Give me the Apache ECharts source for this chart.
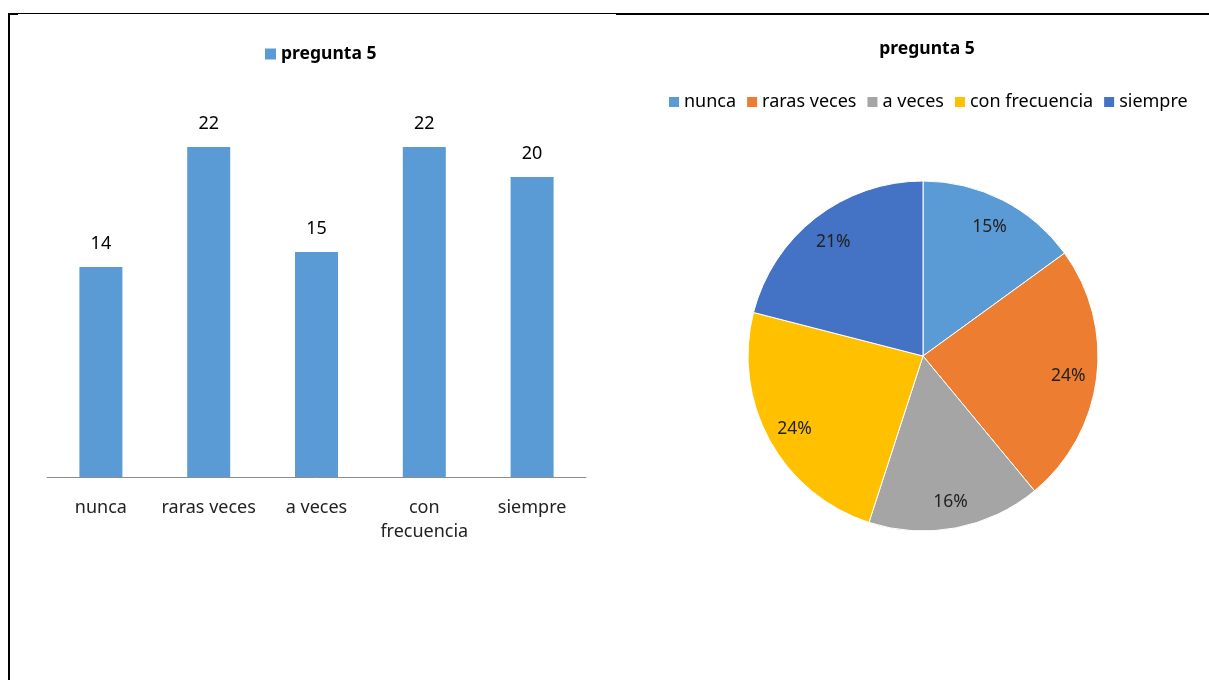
<!DOCTYPE html>
<html>
<head>
<meta charset="utf-8">
<style>
  html, body { margin: 0; padding: 0; background: #ffffff; }
  #chart { width: 1209px; height: 680px; }
</style>
<script src="https://cdn.jsdelivr.net/npm/echarts@6/dist/echarts.min.js"></script>
</head>
<body>
<div id="chart"></div>
<script>
// Survey answers for question 5
const categories = ['nunca', 'raras veces', 'a veces', 'con frecuencia', 'siempre'];
const counts = [14, 22, 15, 22, 20];
const sharePercent = [15, 24, 16, 24, 21];
const seriesName = 'pregunta 5';
const pieColors = ['#5b9bd5', '#ed7d31', '#a5a5a5', '#ffc000', '#4472c4'];

const FONT = '"Noto Sans", "Open Sans", sans-serif';

const chart = echarts.init(document.getElementById('chart'), null, { renderer: 'canvas' });

const pieData = categories.map((c, i) => ({ name: c, value: sharePercent[i] }));

chart.setOption({
  animation: false,
  textStyle: { fontFamily: FONT },
  title: [{
    text: seriesName,
    left: 922,
    top: 35,
    textAlign: 'center',
    textStyle: { fontSize: 17.5, fontWeight: 'bold', color: '#000', fontFamily: FONT }
  }],
  legend: [{
    data: [seriesName],
    left: 265,
    top: 45,
    padding: 0,
    itemWidth: 11,
    itemHeight: 11,
    itemGap: 6,
    icon: 'rect',
    textStyle: { fontSize: 17.5, fontWeight: 'bold', color: '#000', fontFamily: FONT }
  }, {
    data: categories,
    left: 667,
    top: 93,
    padding: 0,
    itemWidth: 12,
    itemHeight: 12,
    itemGap: 9,
    icon: 'rect',
    textStyle: { fontSize: 18, color: '#000', fontFamily: FONT, padding: [0, 0, 0, -1] }
  }],
  grid: { left: 47, right: 623, top: 102, bottom: 203 },
  xAxis: {
    type: 'category',
    data: categories,
    axisLine: { lineStyle: { color: '#8c8c8c', width: 1 } },
    axisTick: { show: false },
    axisLabel: {
      interval: 0,
      margin: 19,
      fontSize: 18,
      lineHeight: 24,
      color: '#222',
      fontFamily: FONT,
      formatter: v => (v.length > 12 ? v.replace(' ', '\n') : v)
    }
  },
  yAxis: {
    type: 'value',
    min: 0,
    max: 25,
    show: false,
    splitLine: { show: false }
  },
  series: [{
    name: seriesName,
    type: 'bar',
    data: counts,
    barWidth: 43,
    itemStyle: { color: '#5b9bd5' },
    label: {
      show: true,
      position: 'top',
      distance: 14,
      fontSize: 18,
      color: '#000',
      fontFamily: FONT
    }
  }, {
    // slices
    name: seriesName,
    type: 'pie',
    center: [923, 356],
    radius: [0, 175],
    startAngle: 90,
    clockwise: true,
    data: pieData,
    color: pieColors,
    label: { show: false },
    labelLine: { show: false },
    itemStyle: { borderColor: '#ffffff', borderWidth: 1 },
    emphasis: { disabled: true }
  }, {
    // percentage labels placed near the rim
    name: 'etiquetas',
    type: 'pie',
    center: [923, 358],
    radius: [112, 175],
    startAngle: 90,
    clockwise: true,
    data: pieData,
    silent: true,
    legendHoverLink: false,
    itemStyle: { color: 'rgba(0,0,0,0)' },
    label: {
      show: true,
      position: 'inside',
      formatter: '{d}%',
      fontSize: 17.5,
      color: '#222',
      fontFamily: FONT
    },
    labelLine: { show: false },
    emphasis: { disabled: true }
  }],
  graphic: [
    { type: 'rect', shape: { x: 8, y: 13, width: 608, height: 1 }, style: { fill: '#000' }, silent: true },
    { type: 'rect', shape: { x: 8, y: 13, width: 10, height: 2 }, style: { fill: '#000' }, silent: true },
    { type: 'rect', shape: { x: 8, y: 13, width: 2, height: 667 }, style: { fill: '#000' }, silent: true },
    { type: 'rect', shape: { x: 616, y: 13, width: 593, height: 2 }, style: { fill: '#000' }, silent: true }
  ]
});
</script>
</body>
</html>
